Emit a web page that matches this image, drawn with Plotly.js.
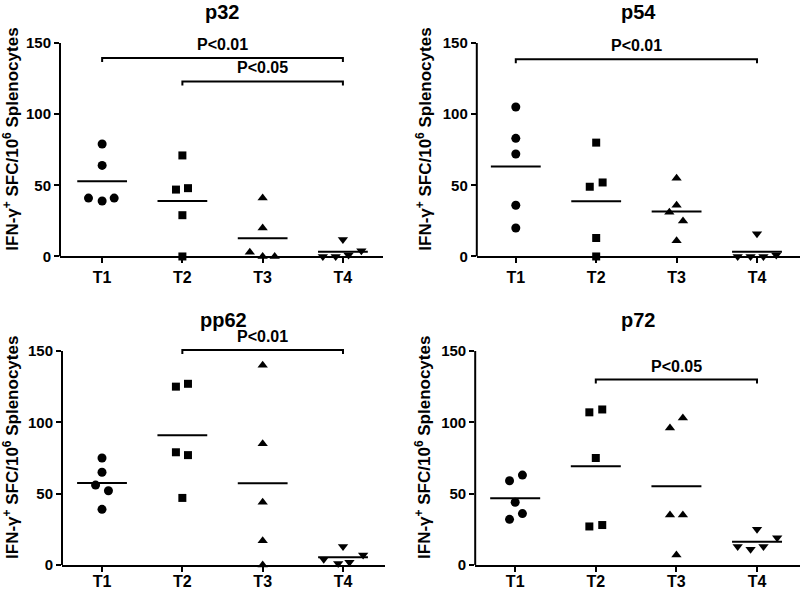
<!DOCTYPE html>
<html><head><meta charset="utf-8">
<script src="https://cdn.plot.ly/plotly-3.0.1.min.js"></script>
<style>html,body{margin:0;padding:0;background:#fff}#chart{width:800px;height:590px}</style>
</head><body><div id="chart"></div>
<script>
// ---- data ----
const categories = ['T1', 'T2', 'T3', 'T4'];
const panelTitles = ['p32', 'p54', 'pp62', 'p72'];
const yTickVals = [0, 50, 100, 150];
const yTitle = 'IFN-γ<sup>+</sup> SFC/10<sup>6</sup> Splenocytes';

// values per group T1..T4
const p32  = [[79, 64, 41, 39, 41], [71, 47, 48, 29, 0], [41, 20, 3, 0, 0], [12, 0, 0, 1, 4]];
const p54  = [[105, 83, 72, 36, 20], [80, 49, 52, 13, 0], [55, 36, 31, 25, 11], [16, 0, 0, 0, 1]];
const pp62 = [[75, 65, 56, 52, 39], [127, 125, 79, 77, 47], [140, 85, 44, 17, 0], [13, 7, 4, 1, 2]];
const p72  = [[63, 59, 44, 36, 32], [109, 107, 75, 28, 27], [103, 96, 35, 35, 7], [25, 19, 13, 11, 13]];

// horizontal scatter offsets (category units) of each dot, as in the picture
const p32Jitter  = [[0, 0, -0.17, 0, 0.15], [0, -0.08, 0.07, 0, 0], [0, 0, -0.16, 0, 0.15], [0, -0.25, -0.09, 0.07, 0.23]];
const p54Jitter  = [[0, 0, 0, 0, 0], [0, -0.08, 0.08, 0, 0], [0, 0, -0.09, 0.08, 0], [0, -0.24, -0.08, 0.08, 0.24]];
const pp62Jitter = [[0, 0, -0.08, 0.08, 0], [0.07, -0.08, -0.08, 0.07, 0], [0, 0, 0, 0, 0], [0, 0.25, -0.24, -0.06, 0.08]];
const p72Jitter  = [[0.09, -0.07, 0, 0.09, -0.07], [0.08, -0.08, 0, 0.08, -0.08], [0.08, -0.08, -0.08, 0.08, 0], [0, 0.25, -0.24, -0.08, 0.08]];

// significance brackets
const bracketPanel = [0, 0, 1, 2, 3];
const bracketFrom  = [1, 2, 1, 2, 2];
const bracketTo    = [4, 4, 4, 4, 4];
const bracketY     = [139.5, 123, 138.5, 150.7, 130];
const bracketText  = ['P<0.01', 'P<0.05', 'P<0.01', 'P<0.01', 'P<0.05'];

// ---- styling / geometry ----
const panels = [p32, p54, pp62, p72];
const jitters = [p32Jitter, p54Jitter, pp62Jitter, p72Jitter];
const symbols = ['circle', 'square', 'triangle-up', 'triangle-down'];
const sizes = [9, 8, 9, 9];
const FONT = 'Liberation Sans, Arial, sans-serif';
const xDomains = [[0.075, 0.4788], [0.596, 1.0], [0.0775, 0.4813], [0.594, 1.0]];
const xRanges = [[0.475, 4.5], [0.515, 4.535], [0.502, 4.523], [0.504, 4.533]];
const yDomains = [[0.5653, 0.9633], [0.5653, 0.9633], [0.0424, 0.4414], [0.0424, 0.4414]];
const labelStandoff = [0, 0, -4, -4];
const YTOP = 165;
const HALF = 0.31;
const DROP = 2.8;

const traces = [];
const shapes = [];
const annotations = [];
const layout = {
  width: 800, height: 590,
  margin: {l: 0, r: 0, t: 0, b: 0},
  paper_bgcolor: '#fff', plot_bgcolor: '#fff',
  showlegend: false,
  font: {family: FONT, color: '#000'}
};

panels.forEach((groups, p) => {
  const sfx = p === 0 ? '' : String(p + 1);
  const xa = 'x' + sfx, ya = 'y' + sfx;
  groups.forEach((vals, g) => {
    traces.push({
      type: 'scatter', mode: 'markers', xaxis: xa, yaxis: ya,
      x: vals.map((v, i) => g + 1 + jitters[p][g][i]), y: vals,
      marker: {symbol: symbols[g], size: sizes[g], color: '#000'},
      cliponaxis: false, hoverinfo: 'skip'
    });
    const mean = vals.reduce((a, b) => a + b, 0) / vals.length;
    traces.push({
      type: 'scatter', mode: 'lines', xaxis: xa, yaxis: ya,
      x: [g + 1 - HALF, g + 1 + HALF], y: [mean, mean],
      line: {color: '#000', width: 2}, hoverinfo: 'skip'
    });
  });
  layout['xaxis' + sfx] = {
    domain: xDomains[p], range: xRanges[p], anchor: ya,
    tickvals: [1, 2, 3, 4], ticktext: categories,
    ticks: 'outside', ticklen: 5, tickwidth: 2, tickcolor: '#000',
    ticklabelstandoff: labelStandoff[p],
    showline: true, linewidth: 2, linecolor: '#000',
    showgrid: false, zeroline: false, fixedrange: true,
    tickfont: {family: FONT, size: 16, weight: 'bold', color: '#000'}
  };
  layout['yaxis' + sfx] = {
    domain: yDomains[p], range: [0, YTOP], anchor: xa,
    tickvals: yTickVals,
    ticks: 'outside', ticklen: 5, tickwidth: 2, tickcolor: '#000',
    showline: false, showgrid: false, zeroline: false, fixedrange: true,
    tickfont: {family: FONT, size: 15, weight: 'bold', color: '#000'},
    title: {text: yTitle, font: {family: FONT, size: 17, weight: 'bold', color: '#000'}, standoff: 6}
  };
  shapes.push({
    type: 'line', xref: xa + ' domain', yref: ya,
    x0: 0, x1: 0, y0: 0, y1: yTickVals[yTickVals.length - 1],
    line: {color: '#000', width: 2}
  });
  annotations.push({
    xref: xa + ' domain', yref: ya + ' domain', x: 0.5, y: 1.041,
    xanchor: 'center', yanchor: 'middle', showarrow: false,
    text: panelTitles[p], font: {family: FONT, size: 20, weight: 'bold', color: '#000'}
  });
});

bracketPanel.forEach((p, k) => {
  const sfx = p === 0 ? '' : String(p + 1);
  const xa = 'x' + sfx, ya = 'y' + sfx;
  const a = bracketFrom[k], b = bracketTo[k], y = bracketY[k];
  shapes.push({
    type: 'path', xref: xa, yref: ya,
    path: `M ${a},${y - DROP} L ${a},${y} L ${b},${y} L ${b},${y - DROP}`,
    line: {color: '#000', width: 2}
  });
  annotations.push({
    xref: xa, yref: ya, x: (a + b) / 2, y: y,
    xanchor: 'center', yanchor: 'bottom', yshift: 3, showarrow: false,
    text: bracketText[k], font: {family: FONT, size: 16, weight: 'bold', color: '#000'}
  });
});

layout.shapes = shapes;
layout.annotations = annotations;
Plotly.newPlot('chart', traces, layout, {staticPlot: true, displayModeBar: false});
</script>
</body></html>
